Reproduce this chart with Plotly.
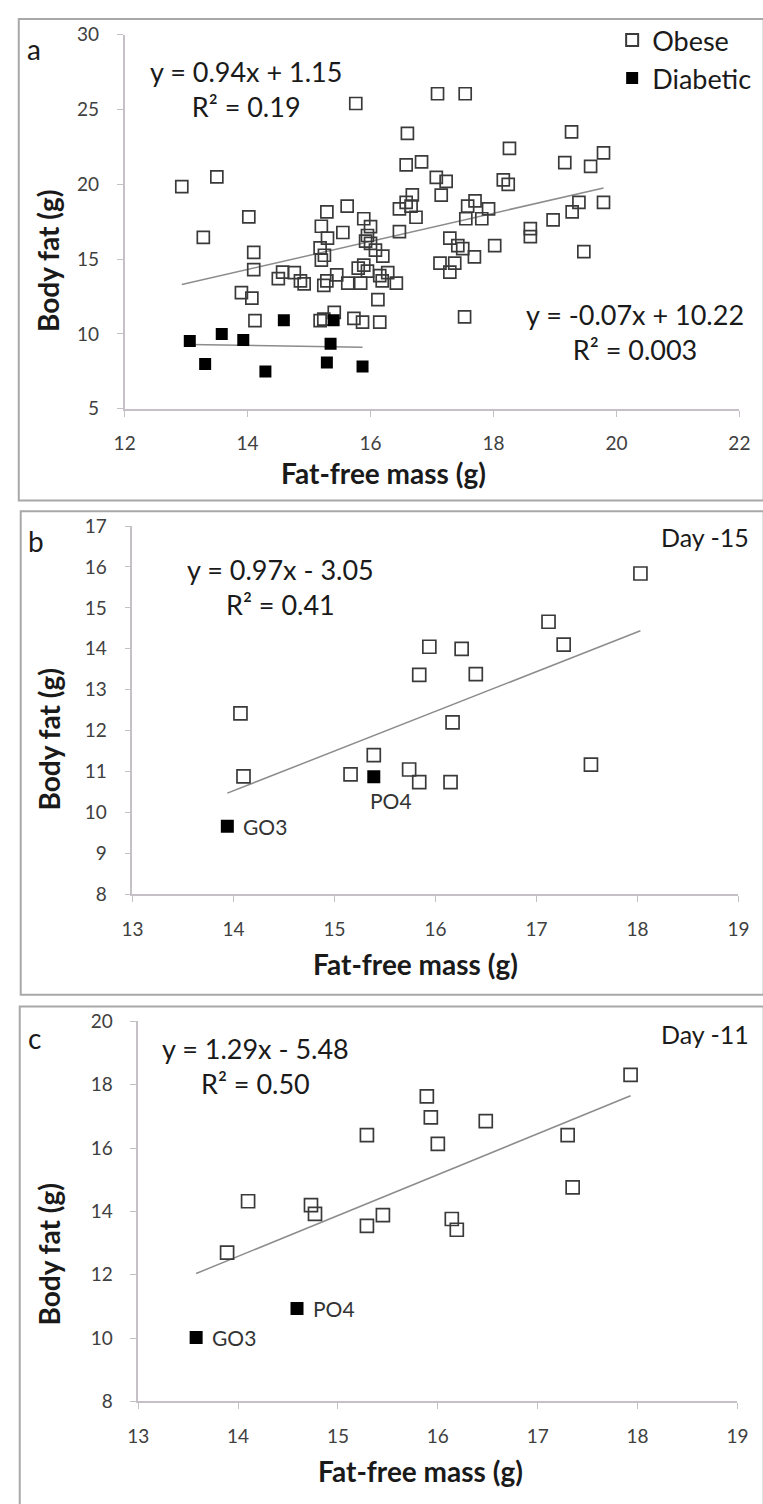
import plotly.graph_objects as go

W, H = 763, 1504

# ---------------- data ----------------
# Panel a : all animals
a_obese_x = [12.93, 13.50, 13.28, 14.02, 14.10, 14.10, 13.90, 14.07, 14.12, 14.50,
             14.57, 14.76, 14.86, 14.92, 15.18, 15.20, 15.20, 15.29, 15.30, 15.25,
             15.18, 15.45, 15.29, 15.24, 15.63, 15.84, 15.55, 15.62, 15.76, 15.89,
             16.00, 15.95, 15.92, 16.00, 16.08, 16.20, 15.80, 15.89, 15.95, 15.41,
             15.24, 15.73, 15.87, 16.15, 16.12, 16.15, 16.28, 16.19, 16.42, 16.47,
             16.58, 16.83, 16.60, 16.68, 16.58, 16.47, 16.66, 16.74, 17.09, 17.54,
             17.07, 17.23, 17.15, 17.29, 17.42, 17.50, 17.69, 17.13, 17.37, 17.29,
             17.53, 17.58, 17.70, 17.92, 17.81, 17.55, 18.02, 18.26, 18.16, 18.24,
             18.60, 18.60, 18.97, 19.16, 19.27, 19.58, 19.79, 19.39, 19.28, 19.79,
             19.47]
a_obese_y = [19.85, 20.50, 16.45, 17.83, 15.46, 14.30, 12.76, 12.40, 10.90, 13.70,
             14.14, 14.10, 13.55, 13.35, 10.90, 14.93, 17.20, 18.16, 16.40, 15.26,
             15.75, 13.95, 13.55, 13.25, 13.40, 13.40, 16.78, 18.55, 25.40, 17.70,
             17.17, 16.58, 16.20, 16.05, 15.60, 15.20, 14.40, 14.60, 14.20, 11.45,
             11.00, 11.05, 10.80, 10.80, 12.30, 13.90, 14.10, 13.55, 13.40, 16.84,
             21.30, 21.50, 23.40, 19.30, 18.80, 18.36, 18.55, 17.80, 26.05, 26.05,
             20.46, 20.20, 19.28, 16.40, 15.90, 15.70, 15.15, 14.74, 14.74, 14.14,
             11.15, 18.55, 18.90, 18.36, 17.70, 17.70, 15.90, 22.40, 20.30, 20.00,
             17.04, 16.50, 17.63, 21.45, 23.50, 21.20, 22.10, 18.80, 18.16, 18.80,
             15.50]
a_diab_x = [13.06, 13.31, 13.58, 13.93, 14.29, 14.59, 15.40, 15.35, 15.29, 15.87]
a_diab_y = [9.54, 8.00, 10.00, 9.60, 7.50, 10.92, 10.92, 9.35, 8.10, 7.83]
a_obese_fit = [0.94, 1.15]      # slope, intercept
a_diab_fit = [-0.07, 10.22]
a_obese_r2 = "0.19"
a_diab_r2 = "0.003"

# Panel b : Day -15
b_obese_x = [14.07, 14.10, 15.16, 15.39, 15.74, 15.84, 16.15, 17.54, 18.03, 17.12,
             17.27, 15.94, 16.26, 15.84, 16.40, 16.17]
b_obese_y = [12.42, 10.88, 10.93, 11.40, 11.05, 10.74, 10.74, 11.17, 15.84, 14.66,
             14.10, 14.05, 14.00, 13.36, 13.38, 12.20]
b_diab_x = [13.94, 15.39]
b_diab_y = [9.66, 10.87]
b_diab_labels = ["GO3", "PO4"]
b_fit = [0.97, -3.05]
b_r2 = "0.41"

# Panel c : Day -11
c_obese_x = [13.89, 14.10, 14.73, 14.77, 15.29, 15.29, 15.45, 15.89, 15.93, 16.00,
             16.48, 16.14, 16.19, 17.30, 17.35, 17.93]
c_obese_y = [12.70, 14.32, 14.20, 13.92, 13.54, 16.41, 13.88, 17.63, 16.97, 16.13,
             16.85, 13.76, 13.42, 16.41, 14.76, 18.31]
c_diab_x = [13.58, 14.59]
c_diab_y = [10.02, 10.93]
c_diab_labels = ["GO3", "PO4"]
c_fit = [1.29, -5.48]
c_r2 = "0.50"

panel_letters = ["a", "b", "c"]
day_labels = ["Day -15", "Day -11"]
x_title = "Fat-free mass (g)"
y_title = "Body fat (g)"

# ---------------- helpers ----------------
def px(x):
    return x / W

def py(y):
    return 1 - y / H

def eq_text(fit, r2):
    s, b = fit
    sign = "+" if b >= 0 else "-"
    return f"y = {s:.2f}x {sign} {abs(b):.2f}<br>R² = {r2}"

FONT = "Lato, Open Sans, sans-serif"
TXT = "#1a1a1a"
OPEN_C = "#3a3a3a"
LINE_C = "#8c8c8c"
AX_C = "#c4c0c6"

fig = go.Figure()

def add_scatter(xs, ys, ax, name, filled, size, show):
    fig.add_trace(go.Scatter(
        x=xs, y=ys, mode="markers", name=name, showlegend=show,
        xaxis=ax[0], yaxis=ax[1],
        marker=dict(symbol="square" if filled else "square-open",
                    size=size, color="black" if filled else OPEN_C,
                    line=dict(width=1.7 if not filled else 0,
                              color="black" if filled else OPEN_C)),
        hoverinfo="skip"))

def add_fit(xs, fit, ax):
    x0, x1 = min(xs), max(xs)
    fig.add_trace(go.Scatter(
        x=[x0, x1], y=[fit[0] * x0 + fit[1], fit[0] * x1 + fit[1]],
        mode="lines", showlegend=False, xaxis=ax[0], yaxis=ax[1],
        line=dict(color=LINE_C, width=1.5), hoverinfo="skip"))

A = ("x", "y")
B = ("x2", "y2")
C = ("x3", "y3")

# panel a
add_fit(a_obese_x, a_obese_fit, A)
add_fit(a_diab_x, a_diab_fit, A)
add_scatter(a_obese_x, a_obese_y, A, "Obese", False, 12, True)
add_scatter(a_diab_x, a_diab_y, A, "Diabetic", True, 12, True)
# panel b
add_fit(b_obese_x + b_diab_x, b_fit, B)
add_scatter(b_obese_x, b_obese_y, B, "Obese", False, 13, False)
add_scatter(b_diab_x, b_diab_y, B, "Diabetic", True, 13, False)
# panel c
add_fit(c_obese_x + c_diab_x, c_fit, C)
add_scatter(c_obese_x, c_obese_y, C, "Obese", False, 13, False)
add_scatter(c_diab_x, c_diab_y, C, "Diabetic", True, 13, False)

def axis(dom, rng, dtick, anchor, is_x):
    d = dict(domain=dom, range=rng, dtick=dtick, tick0=rng[0], anchor=anchor,
             showline=True, linecolor=AX_C, linewidth=1.5, ticks="outside",
             ticklen=6, tickwidth=1.3, tickcolor=AX_C, showgrid=False,
             zeroline=False, fixedrange=True,
             tickfont=dict(family=FONT, size=19, color="#404040"))
    d["ticklabelstandoff"] = 11 if is_x else 14
    return d

layout = dict(
    width=W, height=H, margin=dict(l=0, r=0, t=0, b=0),
    paper_bgcolor="white", plot_bgcolor="rgba(0,0,0,0)",
    font=dict(family=FONT, color=TXT),
    xaxis=axis([px(117), px(750)], [12, 22], 2, "y", True),
    yaxis=axis([py(403), py(23)], [5, 30], 5, "x", False),
    xaxis2=axis([px(125), px(749)], [13, 19], 1, "y2", True),
    yaxis2=axis([py(896), py(522)], [8, 17], 1, "x2", False),
    xaxis3=axis([px(131), px(748)], [13, 19], 1, "y3", True),
    yaxis3=axis([py(1411), py(1025)], [8, 20], 2, "x3", False),
    showlegend=True,
    legend=dict(x=px(619), y=py(4), xanchor="left", yanchor="top",
                font=dict(family=FONT, size=27, color=TXT),
                bgcolor="rgba(0,0,0,0)", itemsizing="constant",
                tracegroupgap=0),
)
fig.update_layout(**layout)

ann = []
def text(x, y, t, size, bold=False, xanchor="center", angle=0, color=TXT):
    ann.append(dict(x=px(x), y=py(y), xref="paper", yref="paper", text=f"<b>{t}</b>" if bold else t,
                    showarrow=False, xanchor=xanchor, yanchor="middle", textangle=angle,
                    font=dict(family=FONT, size=size, color=color)))

# panel letters
text(14, 38, panel_letters[0], 28, xanchor="left")
text(15, 537, panel_letters[1], 28, xanchor="left")
text(15, 1042, panel_letters[2], 28, xanchor="left")

# axis titles
text(384, 468, x_title, 28, bold=True)
text(416, 967, x_title, 28, bold=True)
text(422, 1482, x_title, 28, bold=True)
text(38, 253, y_title, 28, bold=True, angle=-90)
text(39, 739, y_title, 28, bold=True, angle=-90)
text(39, 1262, y_title, 28, bold=True, angle=-90)

# equations
text(242, 78, eq_text(a_obese_fit, a_obese_r2), 27)
text(643, 325, eq_text(a_diab_fit, a_diab_r2), 27)
text(277, 584, eq_text(b_fit, b_r2), 27)
text(252, 1070, eq_text(c_fit, c_r2), 27)

# day labels
text(667, 533, day_labels[0], 25, xanchor="left")
text(667, 1038, day_labels[1], 25, xanchor="left")

fig.update_layout(annotations=ann)

# point labels (data coordinates)
b_label_shift = [(14, 0), (-6, -24)]
for (lx, ly, lt, sh) in zip(b_diab_x, b_diab_y, b_diab_labels, b_label_shift):
    fig.add_annotation(x=lx, y=ly, xref="x2", yref="y2", text=lt, showarrow=False,
                       xanchor="left", yanchor="middle", xshift=sh[0], yshift=sh[1],
                       font=dict(family=FONT, size=21, color="#333333"))
for (lx, ly, lt) in zip(c_diab_x, c_diab_y, c_diab_labels):
    fig.add_annotation(x=lx, y=ly, xref="x3", yref="y3", text=lt, showarrow=False,
                       xanchor="left", yanchor="middle", xshift=14,
                       font=dict(family=FONT, size=21, color="#333333"))

# panel frames
frame = dict(type="rect", xref="paper", yref="paper",
             line=dict(color="#a8a8a8", width=2), fillcolor="rgba(0,0,0,0)", layer="below")
fig.add_shape(**frame, x0=px(8), x1=px(775), y0=py(496), y1=py(7))
fig.add_shape(**frame, x0=px(10), x1=px(775), y0=py(998), y1=py(507))
fig.add_shape(**frame, x0=px(9), x1=px(775), y0=py(1520), y1=py(1010))

fig.write_html("out.html")
